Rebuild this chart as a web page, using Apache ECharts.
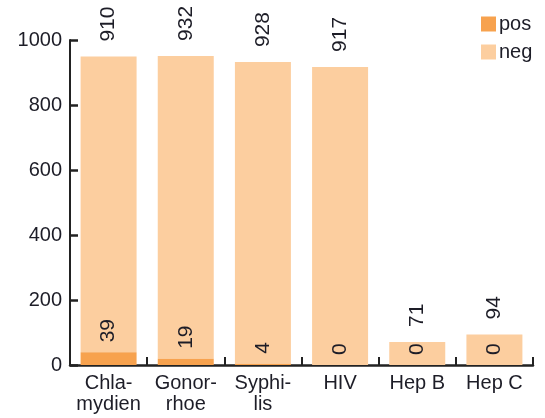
<!DOCTYPE html>
<html>
<head>
<meta charset="utf-8">
<script src="https://cdn.jsdelivr.net/npm/echarts@6/dist/echarts.min.js"></script>
<style>
  html, body { margin: 0; padding: 0; background: #fff; }
  #chart { width: 545px; height: 418px; }
</style>
</head>
<body>
<div id="chart"></div>
<script>
// data
const categories = ['Chla-\nmydien', 'Gonor-\nrhoe', 'Syphi-\nlis', 'HIV', 'Hep B', 'Hep C']
const posValues = [39, 19, 4, 0, 0, 0]
const negValues = [910, 932, 928, 917, 71, 94]
const yTicks = [0, 200, 400, 600, 800, 1000]

const ink = '#1d1d27'
const font = 'Liberation Sans, Arial, Helvetica, sans-serif'

function rotLabel(dist) {
  return {
    show: true,
    position: 'top',
    distance: dist,
    rotate: 90,
    align: 'left',
    verticalAlign: 'middle',
    color: ink,
    fontFamily: font,
    fontSize: 21
  }
}

const chart = echarts.init(document.getElementById('chart'))
chart.setOption({
  animation: false,
  grid: { left: 70, right: 12, top: 40, bottom: 53, containLabel: false },
  legend: {
    orient: 'vertical',
    left: 476,
    top: 9,
    itemWidth: 15,
    itemHeight: 15,
    itemGap: 8,
    icon: 'rect',
    textStyle: { color: ink, fontFamily: font, fontSize: 20, padding: [0, 0, 0, -2] },
    data: ['pos', 'neg']
  },
  xAxis: {
    type: 'category',
    data: categories,
    axisLine: { lineStyle: { color: '#222', width: 2.5 } },
    axisTick: { show: true, inside: true, length: 8, lineStyle: { color: '#222', width: 2 } },
    axisLabel: { interval: 0, color: ink, fontFamily: font, fontSize: 20, lineHeight: 21, margin: 8 }
  },
  yAxis: {
    type: 'value',
    min: yTicks[0],
    max: yTicks[yTicks.length - 1],
    interval: yTicks[1] - yTicks[0],
    splitLine: { show: false },
    axisLine: { show: true, lineStyle: { color: '#222', width: 2 } },
    axisTick: { show: true, inside: true, length: 8, lineStyle: { color: '#222', width: 2.5 } },
    axisLabel: { color: ink, fontFamily: font, fontSize: 20, margin: 8, formatter: (v) => String(v) }
  },
  series: [
    {
      name: 'pos',
      type: 'bar',
      stack: 'all',
      barWidth: 56,
      itemStyle: { color: '#f7a24e' },
      label: rotLabel(10),
      z: 3,
      data: posValues
    },
    {
      name: 'neg',
      type: 'bar',
      stack: 'all',
      barWidth: 56,
      itemStyle: { color: '#fcce9f' },
      label: rotLabel(15),
      z: 2,
      data: negValues
    }
  ]
})
</script>
</body>
</html>
